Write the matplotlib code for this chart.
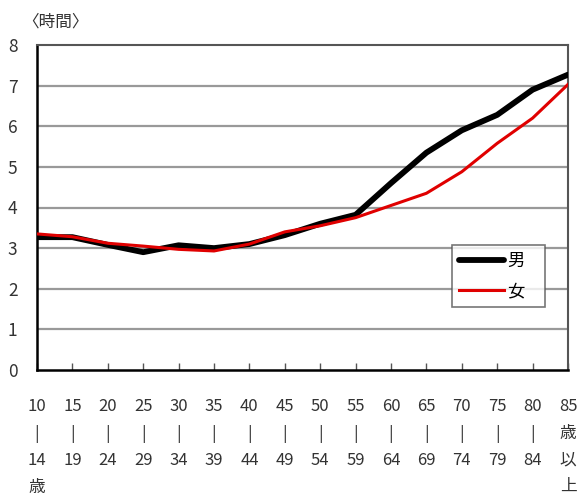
import matplotlib
matplotlib.use("Agg")
import matplotlib.pyplot as plt

plt.rcParams['font.family'] = ['Noto Sans CJK JP', 'DejaVu Sans']

categories = ["10\n|\n14\n歳", "15\n|\n19", "20\n|\n24", "25\n|\n29", "30\n|\n34",
              "35\n|\n39", "40\n|\n44", "45\n|\n49", "50\n|\n54", "55\n|\n59",
              "60\n|\n64", "65\n|\n69", "70\n|\n74", "75\n|\n79", "80\n|\n84",
              "85\n歳\n以\n上"]
male = [3.27, 3.27, 3.08, 2.9, 3.07, 3.0, 3.1, 3.32, 3.6, 3.82, 4.6, 5.35, 5.9, 6.28, 6.9, 7.27]
female = [3.35, 3.28, 3.12, 3.05, 2.97, 2.93, 3.1, 3.4, 3.55, 3.75, 4.05, 4.35, 4.88, 5.58, 6.2, 7.03]
yticks = [0, 1, 2, 3, 4, 5, 6, 7, 8]

fig = plt.figure(figsize=(5.82, 5.04), dpi=100)
ax = fig.add_axes([37/582, 1-370/504, (568-37)/582, (370-45)/504])

x = list(range(len(categories)))
for v in yticks[1:-1]:
    ax.axhline(v, color='#999999', lw=1.6, zorder=1)

ax.plot(x, male, color='black', lw=4.2, label='男', zorder=3, solid_capstyle='round')
ax.plot(x, female, color='#e00000', lw=2.2, label='女', zorder=4)

ax.set_xlim(0, len(categories) - 1)
ax.set_ylim(0, 8)
ax.set_yticks(yticks)
ax.set_yticklabels([str(v) for v in yticks], fontsize=12.5, color='#333333')
ax.set_xticks(x)
ax.set_xticklabels(categories, fontsize=12, color='#333333', linespacing=1.75, va='top')
ax.tick_params(axis='x', direction='in', length=5, width=1, color='#555555', pad=20)
ax.tick_params(axis='y', length=0, pad=14)

for s in ['left', 'bottom']:
    ax.spines[s].set_color('black')
    ax.spines[s].set_linewidth(1.8)
for s in ['top', 'right']:
    ax.spines[s].set_color('#555555')
    ax.spines[s].set_linewidth(1.5)

fig.text(22/582, 1-22/504, '〈時間〉', fontsize=12, color='#333333', va='center', ha='left')

leg = ax.legend(loc='lower left', bbox_to_anchor=((452-37)/531, (370-307)/325, (545-452)/531, (307-232)/325),
                mode='expand', frameon=True, fancybox=False, edgecolor='#555555', fontsize=12.5,
                handlelength=2.6, handletextpad=0.2, labelspacing=0.7, borderaxespad=0)
leg.get_frame().set_linewidth(1.2)

fig.savefig('out.png', dpi=100, facecolor='white')
